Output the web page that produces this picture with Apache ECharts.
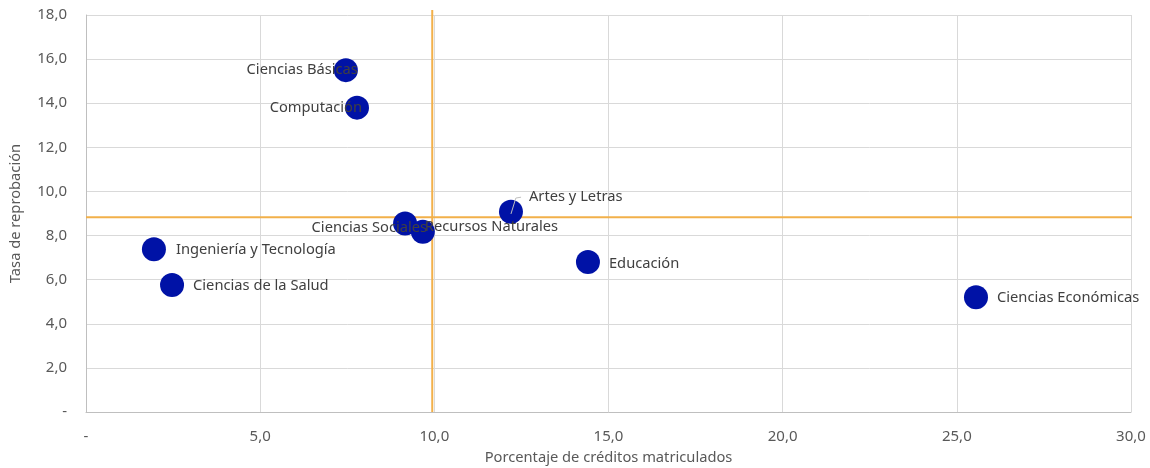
<!DOCTYPE html>
<html><head><meta charset="utf-8">
<script src="https://cdn.jsdelivr.net/npm/echarts@6/dist/echarts.min.js"></script>
<style>html,body{margin:0;padding:0;background:#fff}#c{width:1150px;height:468px}</style>
</head><body><div id="c"></div>
<script>
const areas = ["Ciencias Básicas","Computación","Artes y Letras","Ciencias Sociales","Recursos Naturales","Educación","Ciencias Económicas","Ingeniería y Tecnología","Ciencias de la Salud"];
const creditPct = [7.46, 7.78, 12.2, 9.16, 9.67, 14.41, 25.55, 1.95, 2.47];
const failRate = [15.5, 13.8, 9.08, 8.55, 8.17, 6.8, 5.2, 7.38, 5.76];
const avgCredit = 9.94;
const avgFail = 8.83;
const xTicks = [0, 5, 10, 15, 20, 25, 30];
const yTicks = [0, 2, 4, 6, 8, 10, 12, 14, 16, 18];

// label placement styles (not data)
const labelStyle = {
  "Ciencias Básicas": {position: 'left', offset: [29, 0]},
  "Computación": {position: 'left', offset: [22, 0]},
  "Artes y Letras": {position: 'right', offset: [1, -15]},
  "Ciencias Sociales": {position: 'left', offset: [39, 4]},
  "Recursos Naturales": {position: 'right', offset: [-15, -5]},
  "Educación": {position: 'right', offset: [4, 2]},
  "Ciencias Económicas": {position: 'right', offset: [4, 1]},
  "Ingeniería y Tecnología": {position: 'right', offset: [5, 1]},
  "Ciencias de la Salud": {position: 'right', offset: [4, 1]}
};

const FONT = 'Noto Sans';
const fmt = v => v === 0 ? '-' : v.toFixed(1).replace('.', ',');

const pts = areas.map((n, i) => {
  const s = labelStyle[n];
  return {
    name: n,
    value: [creditPct[i], failRate[i]],
    label: {position: s.position, offset: s.offset}
  };
});

const chart = echarts.init(document.getElementById('c'));
chart.setOption({
  animation: false,
  grid: {left: 86, right: 19, top: 15, bottom: 56, containLabel: false, outerBoundsMode: 'none'},
  xAxis: {
    type: 'value', min: xTicks[0], max: xTicks[xTicks.length-1], interval: 5,
    name: 'Porcentaje de créditos matriculados', nameLocation: 'middle', nameGap: 38,
    nameTextStyle: {fontFamily: FONT, fontSize: 14.7, color: '#595959'},
    axisLine: {show: true, lineStyle: {color: '#bfbfbf'}},
    axisTick: {show: false},
    axisLabel: {formatter: fmt, fontFamily: FONT, fontSize: 15, color: '#595959', margin: 17},
    splitLine: {show: true, lineStyle: {color: '#d9d9d9'}}
  },
  yAxis: {
    type: 'value', min: yTicks[0], max: yTicks[yTicks.length-1], interval: 2,
    name: 'Tasa de reprobación', nameLocation: 'middle', nameGap: 63, nameRotate: 90,
    nameTextStyle: {fontFamily: FONT, fontSize: 14.7, color: '#595959'},
    axisLine: {show: true, lineStyle: {color: '#bfbfbf'}},
    axisTick: {show: false},
    axisLabel: {formatter: fmt, fontFamily: FONT, fontSize: 15, color: '#595959', margin: 19},
    splitLine: {show: true, lineStyle: {color: '#d9d9d9'}}
  },
  series: [
    {
      type: 'line', data: [[avgCredit, 0], [avgCredit, 18.23]], symbol: 'none', clip: false,
      lineStyle: {color: '#F2B04A', width: 2}, silent: true, z: 1
    },
    {
      type: 'line', data: [[0, avgFail], [30.17, avgFail]], symbol: 'none', clip: false,
      lineStyle: {color: '#F2B04A', width: 2}, silent: true, z: 1
    },
    {
      type: 'scatter', symbolSize: 24, z: 3,
      itemStyle: {color: '#0012A6', opacity: 1},
      label: {show: true, formatter: p => p.name, fontFamily: FONT, fontSize: 14.7, color: '#404040', distance: 5},
      data: pts
    },
    {
      type: 'line', symbol: 'none', silent: true, z: 4,
      data: [[creditPct[2], failRate[2] - 0.1], [creditPct[2] + 0.14, failRate[2] + 0.62], [creditPct[2] + 0.29, failRate[2] + 0.66]],
      lineStyle: {color: '#bfbfbf', width: 1}
    }
  ]
});
</script></body></html>
